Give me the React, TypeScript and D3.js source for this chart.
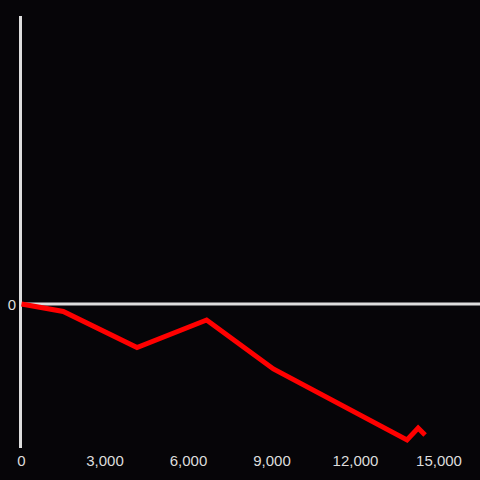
import React from "react";
import * as d3 from "d3";

const xValues = [0, 1500, 4150, 6650, 9050, 13850, 14250, 14500];
const yValues = [0, -7.5, -43.5, -16, -65, -136, -124, -131];
const xTicks = [0, 3000, 6000, 9000, 12000, 15000];
const yTicks = [0];

const W = 480;
const H = 480;

export default function App() {
  const x = d3.scaleLinear().domain([0, 15000]).range([21.5, 439]);
  const y = d3.scaleLinear().domain([-144, 288]).range([448, 16]);
  const pts = xValues.map((v, i) => [x(v), y(yValues[i])] as [number, number]);
  const line = d3.line()(pts) || "";
  const fmt = d3.format(",");
  return (
    <svg
      width={W}
      height={H}
      style={{ position: "fixed", left: 0, top: 0, background: "#060508" }}
    >
      <rect x={0} y={0} width={W} height={H} fill="#060508" />
      <line x1={20.5} x2={20.5} y1={16} y2={448} stroke="#dddddd" strokeWidth={3} />
      <line x1={19} x2={480} y1={y(0)} y2={y(0)} stroke="#dddddd" strokeWidth={3} />
      {yTicks.map((t) => (
        <text
          key={t}
          x={16}
          y={y(t) + 5.5}
          textAnchor="end"
          fill="#dddddd"
          fontFamily="Liberation Sans, Arial, sans-serif"
          fontSize={15}
        >
          {fmt(t)}
        </text>
      ))}
      {xTicks.map((t) => (
        <text
          key={t}
          x={x(t)}
          y={466}
          textAnchor="middle"
          fill="#dddddd"
          fontFamily="Liberation Sans, Arial, sans-serif"
          fontSize={15}
        >
          {fmt(t)}
        </text>
      ))}
      <path d={line} fill="none" stroke="#ff0000" strokeWidth={5} strokeLinejoin="miter" />
    </svg>
  );
}
